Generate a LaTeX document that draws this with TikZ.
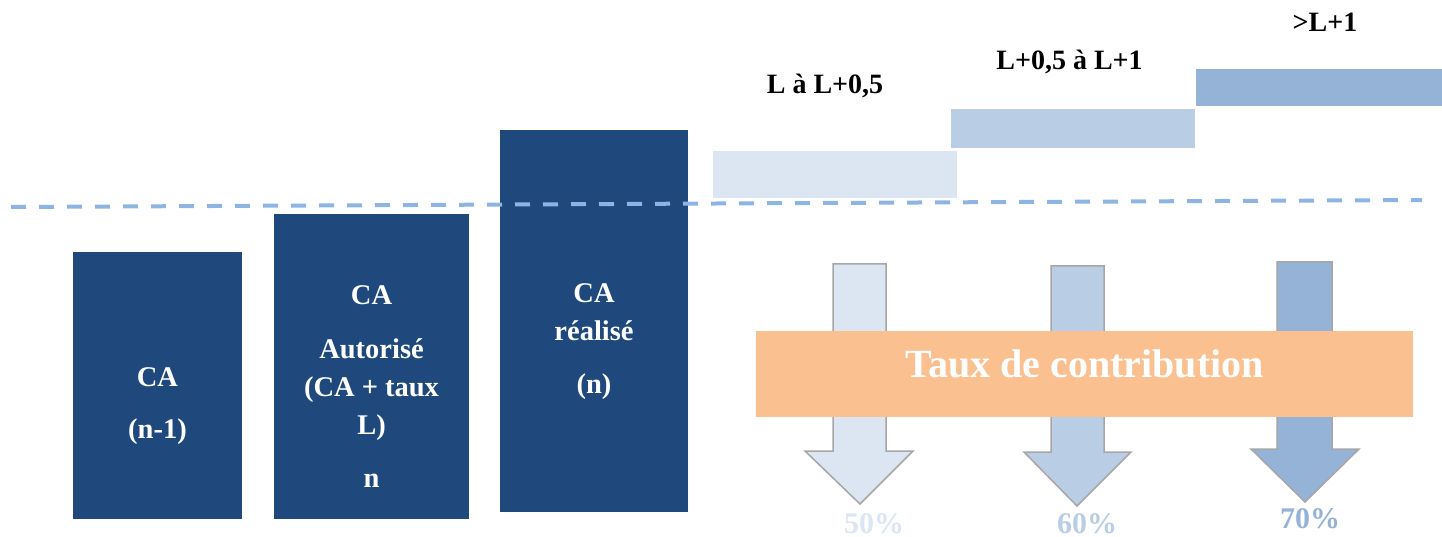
\documentclass[tikz,border=0pt]{standalone}
\usepackage{fontspec}
\setmainfont{Liberation Serif}
\definecolor{darkblue}{HTML}{1F497D}
\definecolor{lvlA}{HTML}{DCE6F2}
\definecolor{lvlB}{HTML}{B9CDE5}
\definecolor{lvlC}{HTML}{95B3D7}
\definecolor{orangebar}{HTML}{FAC090}
\definecolor{dashblue}{HTML}{8DB4E2}
\definecolor{arrowgray}{HTML}{A6A6A6}
\begin{document}
\begin{tikzpicture}[x=1pt,y=-1pt,
  boxtxt/.style={text=white,font=\bfseries\fontsize{28.5}{34}\selectfont,anchor=base,inner sep=0pt},
  toplbl/.style={text=black,font=\bfseries\fontsize{28}{32}\selectfont,anchor=base,inner sep=0pt},
  pct/.style={font=\bfseries\fontsize{30}{36}\selectfont,anchor=base,inner sep=0pt},
  bigarrow/.style={draw=arrowgray,line width=1.5pt,line join=miter}]
\useasboundingbox (0,0) rectangle (1442,537);
% dark boxes
\fill[darkblue] (73,252) rectangle (242,519);
\fill[darkblue] (274,214) rectangle (469,519);
\fill[darkblue] (500,130) rectangle (688,512);
% dashed line
\coordinate (dl) at (11,207);
\coordinate (dr) at (1422,200);
\draw[dashblue,line width=4pt,dash pattern=on 15pt off 13pt] (dl) -- (dr);
% top bars
\fill[lvlA] (713,151) rectangle (957,198);
\fill[lvlB] (951,109) rectangle (1195,148);
\fill[lvlC] (1196,69) rectangle (1442,106);
% box texts
\node[boxtxt] (b1a) at (157.5,386) {CA};
\node[boxtxt] (b1b) at (157.5,438) {(n-1)};
\node[boxtxt] (b2a) at (371.5,304) {CA};
\node[boxtxt] (b2b) at (371.5,358) {Autorisé};
\node[boxtxt] (b2c) at (371.5,396) {(CA + taux};
\node[boxtxt] (b2d) at (371.5,434) {L)};
\node[boxtxt] (b2e) at (371.5,487) {n};
\node[boxtxt] (b3a) at (594,302) {CA};
\node[boxtxt] (b3b) at (594,340) {réalisé};
\node[boxtxt] (b3c) at (594,393) {(n)};
% top labels
\node[toplbl] (l1) at (825,94) {L à L+0,5};
\node[toplbl] (l2) at (1069.5,70) {L+0,5 à L+1};
\node[toplbl] (l3) at (1325,32) {>L+1};
% arrows
\draw[bigarrow,fill=lvlA] (833,264) -- (886,264) -- (886,451) -- (913,451) -- (860,504) -- (805,451) -- (833,451) -- cycle;
\draw[bigarrow,fill=lvlB] (1051,266) -- (1104,266) -- (1104,452) -- (1131,452) -- (1077,506) -- (1024,452) -- (1051,452) -- cycle;
\draw[bigarrow,fill=lvlC] (1277,262) -- (1332,262) -- (1332,449) -- (1359,449) -- (1305,502) -- (1251,449) -- (1277,449) -- cycle;
% orange bar
\fill[orangebar] (756,331) rectangle (1413,416.5);
\node[text=white,font=\bfseries\fontsize{40}{46}\selectfont,anchor=base,inner sep=0pt] (taux) at (1084.5,377) {Taux de contribution};
% percentages
\node[pct,text=lvlA] (p1) at (874,533) {50\%};
\node[pct,text=lvlB] (p2) at (1087,533) {60\%};
\node[pct,text=lvlC] (p3) at (1310,528) {70\%};
\end{tikzpicture}
\end{document}
